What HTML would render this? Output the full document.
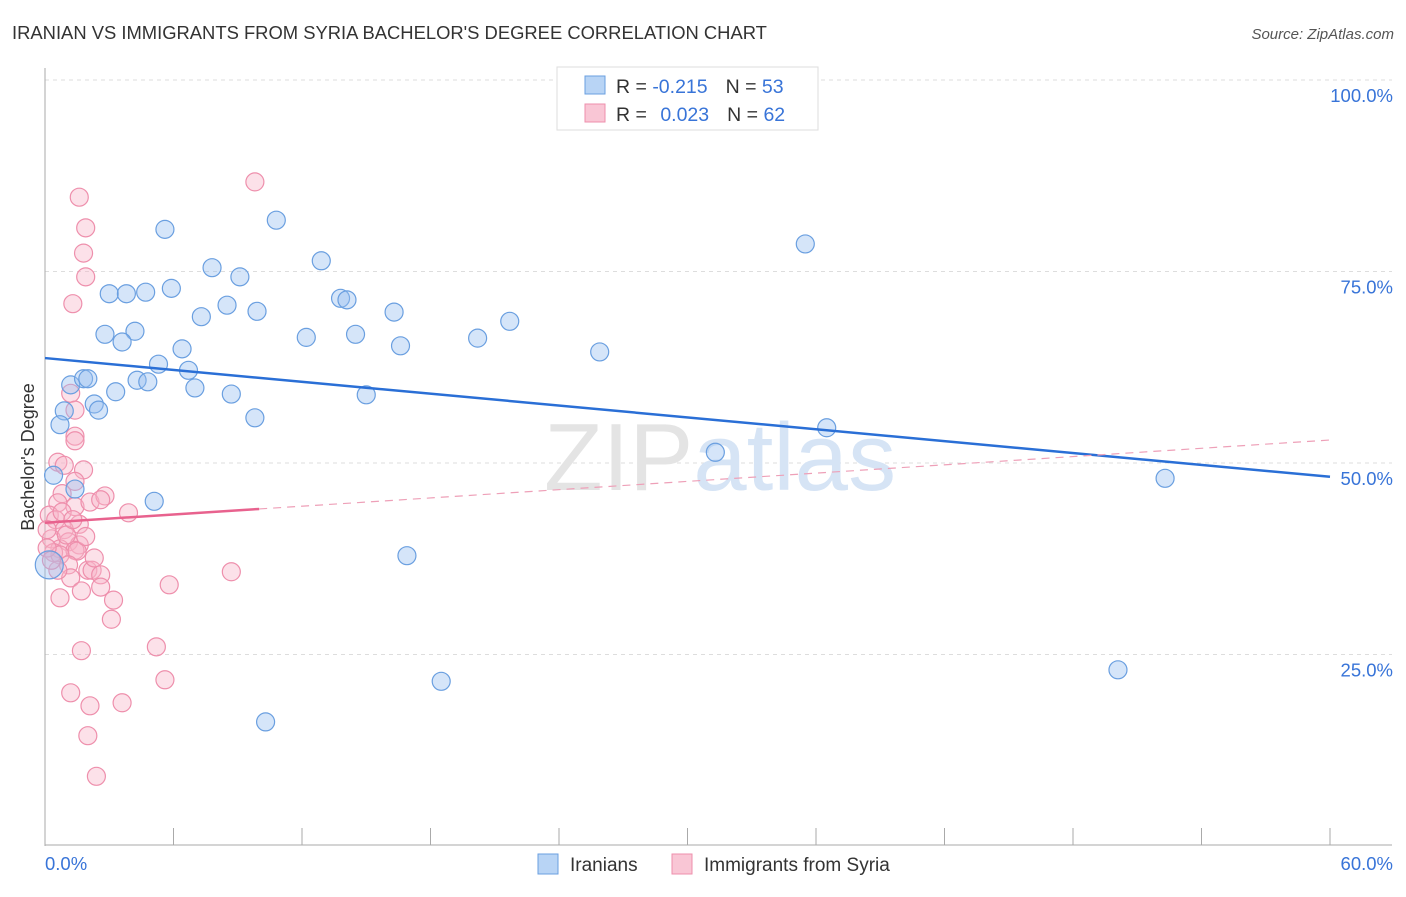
<!DOCTYPE html>
<html><head><meta charset="utf-8"><style>
body{margin:0;background:#fff;font-family:"Liberation Sans",sans-serif;}
svg text{font-family:"Liberation Sans",sans-serif;}
</style></head><body>
<svg width="1406" height="892">
<text x="12" y="39" font-size="18.4" fill="#333">IRANIAN VS IMMIGRANTS FROM SYRIA BACHELOR'S DEGREE CORRELATION CHART</text>
<text x="1394" y="39" font-size="15" fill="#555" font-style="italic" text-anchor="end">Source: ZipAtlas.com</text>
<g id="grid"></g>
<text x="720" y="490" font-size="96" fill="#e4e4e4" text-anchor="middle" font-family="Liberation Serif">ZIP<tspan fill="#d6e4f5" font-family="Liberation Sans">atlas</tspan></text>
<g id="axes"></g>
<g id="pts"></g>
<g id="lines"></g>
<text transform="translate(34,457) rotate(-90)" font-size="18" fill="#333" text-anchor="middle">Bachelor's Degree</text>
<g>
<rect x="557" y="67" width="261" height="63" fill="#fff" stroke="#ddd"/>
<rect x="585" y="76" width="20" height="18" fill="#b8d4f5" stroke="#6a9fe0"/>
<rect x="585" y="104" width="20" height="18" fill="#f9c6d5" stroke="#ee8fac"/>
<text x="616" y="93" font-size="19.5" fill="#333">R = <tspan fill="#3874d8">-0.215</tspan><tspan dx="18">N = </tspan><tspan fill="#3874d8">53</tspan></text>
<text x="616" y="121" font-size="19.5" fill="#333">R = <tspan dx="8" fill="#3874d8">0.023</tspan><tspan dx="18">N = </tspan><tspan fill="#3874d8">62</tspan></text>
</g>
<g>
<rect x="538" y="854" width="20" height="20" fill="#b8d4f5" stroke="#6a9fe0"/>
<text x="570" y="871" font-size="19" fill="#333">Iranians</text>
<rect x="672" y="854" width="20" height="20" fill="#f9c6d5" stroke="#ee8fac"/>
<text x="704" y="871" font-size="19" fill="#333">Immigrants from Syria</text>
</g>
</svg>
<script>
const yTicks=[25,50,75,100];
const yTickLabels=["25.0%","50.0%","75.0%","100.0%"];
const xTickVals=[0,6,12,18,24,30,36,42,48,54,60];
const blueX=[5.6,10.8,35.5,7.8,9.1,12.9,3.0,3.8,4.7,5.9,8.5,7.3,9.9,13.8,14.1,16.3,21.7,2.8,4.2,3.6,12.2,14.5,16.6,20.2,25.9,6.4,5.3,6.7,1.2,1.8,2.0,4.3,4.8,3.3,7.0,8.7,15.0,0.9,2.3,2.5,9.8,0.7,36.5,31.3,0.4,52.3,1.4,5.1,0.2,16.9,50.1,18.5,10.3];
const blueY=[80.5,81.7,78.6,75.5,74.3,76.4,72.1,72.1,72.3,72.8,70.6,69.1,69.8,71.5,71.3,69.7,68.5,66.8,67.2,65.8,66.4,66.8,65.3,66.3,64.5,64.9,62.9,62.1,60.2,61.0,61.0,60.8,60.6,59.3,59.8,59.0,58.9,56.8,57.7,56.9,55.9,55.0,54.6,51.4,48.4,48.0,46.6,45.0,36.7,37.9,23.0,21.5,16.2];
const pinkX=[9.8,1.6,1.9,1.8,1.9,1.3,1.2,1.4,1.4,1.4,0.6,0.9,1.8,1.4,0.8,0.6,1.4,2.1,2.8,2.6,3.9,0.2,0.5,1.6,0.9,0.3,1.1,1.6,0.7,1.4,0.4,1.5,0.7,1.1,2.0,2.2,1.2,2.6,8.7,5.8,0.7,1.7,2.6,3.2,3.1,5.2,1.7,5.6,1.2,2.1,3.6,2.0,2.4,0.1,0.1,0.8,1.9,0.6,1.0,2.3,0.3,1.3];
const pinkY=[86.7,84.7,80.7,77.4,74.3,70.8,59.1,56.9,53.5,52.9,50.1,49.7,49.1,47.6,46.0,44.8,44.3,44.9,45.7,45.2,43.5,43.2,42.6,42.0,41.3,40.1,39.7,39.3,38.8,38.6,38.3,38.5,38.0,36.7,36.0,36.0,35.0,35.4,35.8,34.1,32.4,33.3,33.8,32.1,29.6,26.0,25.5,21.7,20.0,18.3,18.7,14.4,9.1,41.3,38.9,43.6,40.4,36.0,40.6,37.6,37.3,42.6];
const blueTrend=[[0,63.7],[60,48.2]];
const pinkTrend=[[0,42.2],[10,44.0],[60,53.0]];
const NS="http://www.w3.org/2000/svg";
const X=v=>45+v/60*1285, Y=v=>846-v/100*766;
function mk(t,a,p){const e=document.createElementNS(NS,t);for(const k in a)e.setAttribute(k,a[k]);document.getElementById(p).appendChild(e);return e;}
yTicks.forEach((t,i)=>{
 const g=mk('line',{x1:45,x2:1392,y1:Y(t),y2:Y(t),stroke:'#ddd','stroke-dasharray':'4,4'},'grid');
 
 
 const l=mk('text',{x:1393,y:Y(t)+22,'font-size':18.5,fill:'#3874d8','text-anchor':'end'},'axes');
 l.textContent=yTickLabels[i];
 
 
});
const ax=mk('line',{x1:45,x2:45,y1:68,y2:846,stroke:'#aaa'},'axes');


const bx=mk('line',{x1:45,x2:1392,y1:845,y2:845,stroke:'#aaa'},'axes');


xTickVals.forEach(t=>{
 const k=mk('line',{x1:X(t),x2:X(t),y1:828,y2:845,stroke:'#aaa'},'axes');
 
 
});
const x0=mk('text',{x:45,y:870,'font-size':18.5,fill:'#3874d8'},'axes');x0.textContent='0.0%';


const x1=mk('text',{x:1393,y:870,'font-size':18.5,fill:'#3874d8','text-anchor':'end'},'axes');x1.textContent='60.0%';


pinkX.forEach((v,i)=>{
 const c=mk('circle',{cx:X(v),cy:Y(pinkY[i]),r:9,fill:'rgba(248,180,200,0.4)',stroke:'#ee8fac','stroke-width':1.2},'pts');
 
 
});
blueX.forEach((v,i)=>{
 const c=mk('circle',{cx:X(v),cy:Y(blueY[i]),r:(i===48?14:9),fill:'rgba(150,190,240,0.4)',stroke:'#6a9fe0','stroke-width':1.2},'pts');
 
 
});
const bl=mk('line',{x1:X(blueTrend[0][0]),y1:Y(blueTrend[0][1]),x2:X(blueTrend[1][0]),y2:Y(blueTrend[1][1]),stroke:'#2a6fd6','stroke-width':2.5},'lines');


const pl=mk('line',{x1:X(pinkTrend[0][0]),y1:Y(pinkTrend[0][1]),x2:X(pinkTrend[1][0]),y2:Y(pinkTrend[1][1]),stroke:'#e8628e','stroke-width':2.5},'lines');


const pd=mk('line',{x1:X(pinkTrend[1][0]),y1:Y(pinkTrend[1][1]),x2:X(pinkTrend[2][0]),y2:Y(pinkTrend[2][1]),stroke:'#eea0b8','stroke-width':1.2,'stroke-dasharray':'8,6'},'lines');


</script>
</body></html>
